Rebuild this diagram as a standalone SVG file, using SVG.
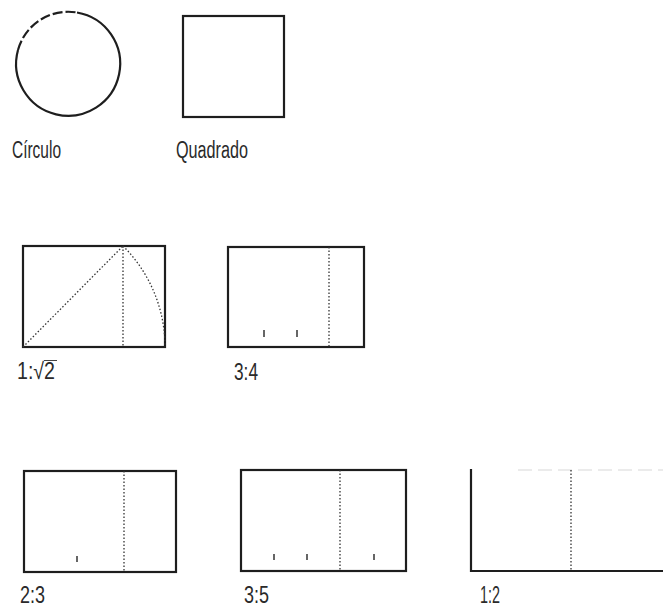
<svg xmlns="http://www.w3.org/2000/svg" width="663" height="609" viewBox="0 0 663 609">
<style>
.frame{fill:none;stroke:#1e1e1e;stroke-width:2.2}
.dot{fill:none;stroke:#333;stroke-width:1.3;stroke-dasharray:1.5 2}
.tick{stroke:#333;stroke-width:1.5}
.lbl{font-family:"Liberation Sans",Arial,sans-serif;font-size:23px;fill:#2a2a2a}
</style>
<rect width="663" height="609" fill="#fff"/>
<g id="circulo">
<path class="frame" d="M77,12.5 A52,52 0 1 1 18,50"/>
<path class="frame" d="M18,50 A52,52 0 0 1 77,12.5" stroke-dasharray="10 3"/>
<text class="lbl" x="12" y="158" textLength="49" lengthAdjust="spacingAndGlyphs">Círculo</text>
</g>
<g id="quadrado">
<rect class="frame" x="183" y="16" width="101" height="101"/>
<text class="lbl" x="176" y="158" textLength="72" lengthAdjust="spacingAndGlyphs">Quadrado</text>
</g>
<g id="raiz2">
<rect class="frame" x="23" y="246" width="142" height="101"/>
<line class="dot" x1="23" y1="347" x2="123" y2="246"/>
<line class="dot" x1="123" y1="246" x2="123" y2="347"/>
<path class="dot" d="M123,246 A142,142 0 0 1 165,347"/>
<text class="lbl" x="17" y="379" textLength="38" lengthAdjust="spacingAndGlyphs">1:√2</text>
<line x1="44" y1="360.5" x2="57" y2="360.5" stroke="#444" stroke-width="1"/>
</g>
<g id="r34">
<rect class="frame" x="228" y="247" width="136" height="100"/>
<line class="dot" x1="329" y1="247" x2="329" y2="347"/>
<line class="tick" x1="264" y1="330" x2="264" y2="337"/>
<line class="tick" x1="297" y1="330" x2="297" y2="337"/>
<text class="lbl" x="234" y="380" textLength="24" lengthAdjust="spacingAndGlyphs">3:4</text>
</g>
<g id="r23">
<rect class="frame" x="24" y="471" width="152" height="101"/>
<line class="dot" x1="124" y1="471" x2="124" y2="572"/>
<line class="tick" x1="77" y1="556" x2="77" y2="562"/>
<text class="lbl" x="20" y="603" textLength="25" lengthAdjust="spacingAndGlyphs">2:3</text>
</g>
<g id="r35">
<rect class="frame" x="241" y="470" width="165" height="101"/>
<line class="dot" x1="340" y1="470" x2="340" y2="571"/>
<line class="tick" x1="274" y1="554" x2="274" y2="560"/>
<line class="tick" x1="307" y1="554" x2="307" y2="560"/>
<line class="tick" x1="374" y1="554" x2="374" y2="560"/>
<text class="lbl" x="244" y="603" textLength="25" lengthAdjust="spacingAndGlyphs">3:5</text>
</g>
<g id="r12">
<path class="frame" d="M471,469 V571 H663"/>
<line x1="518" y1="470" x2="663" y2="470" stroke="#d8d8d8" stroke-width="1.2" stroke-dasharray="14 6"/>
<line class="dot" x1="571" y1="470" x2="571" y2="571"/>
<text class="lbl" x="480" y="603" textLength="20" lengthAdjust="spacingAndGlyphs">1:2</text>
</g>
</svg>
